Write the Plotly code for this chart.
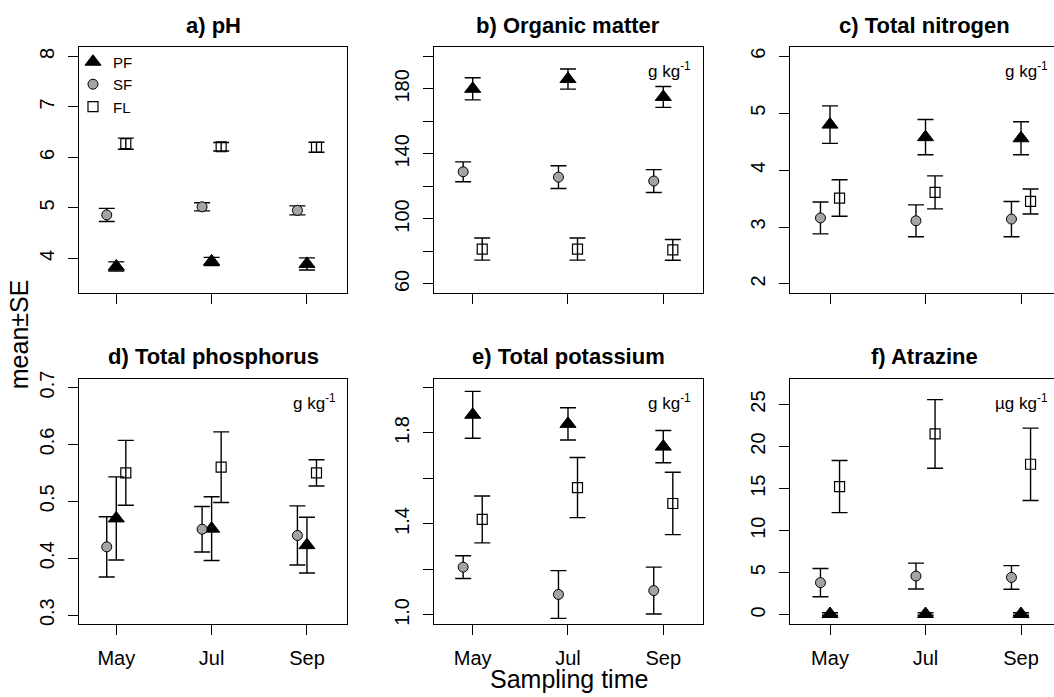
import plotly.graph_objects as go

# ---------------- data ----------------
months = ["May", "Jul", "Sep"]
series = ["PF", "SF", "FL"]

ph_pf_mean = [3.84, 3.94, 3.89]
ph_pf_se = [0.09, 0.08, 0.12]
ph_sf_mean = [4.86, 5.02, 4.95]
ph_sf_se = [0.13, 0.08, 0.09]
ph_fl_mean = [6.27, 6.21, 6.20]
ph_fl_se = [0.11, 0.085, 0.10]

om_pf_mean = [180.0, 186.0, 175.0]
om_pf_se = [6.8, 6.2, 6.4]
om_sf_mean = [129.0, 125.7, 123.3]
om_sf_se = [6.1, 7.0, 7.0]
om_fl_mean = [81.5, 81.5, 81.0]
om_fl_se = [6.8, 6.8, 6.4]

tn_pf_mean = [4.80, 4.58, 4.56]
tn_pf_se = [0.33, 0.31, 0.29]
tn_sf_mean = [3.16, 3.11, 3.14]
tn_sf_se = [0.28, 0.28, 0.31]
tn_fl_mean = [3.51, 3.61, 3.45]
tn_fl_se = [0.32, 0.29, 0.22]

tp_pf_mean = [0.470, 0.452, 0.423]
tp_pf_se = [0.073, 0.056, 0.049]
tp_sf_mean = [0.420, 0.451, 0.440]
tp_sf_se = [0.053, 0.040, 0.052]
tp_fl_mean = [0.550, 0.560, 0.550]
tp_fl_se = [0.057, 0.062, 0.023]

tk_pf_mean = [1.88, 1.84, 1.74]
tk_pf_se = [0.103, 0.071, 0.071]
tk_sf_mean = [1.21, 1.09, 1.107]
tk_sf_se = [0.05, 0.105, 0.103]
tk_fl_mean = [1.42, 1.56, 1.49]
tk_fl_se = [0.103, 0.132, 0.137]

atz_pf_mean = [0.1, 0.1, 0.1]
atz_pf_se = [0.15, 0.15, 0.15]
atz_sf_mean = [3.83, 4.61, 4.45]
atz_sf_se = [1.68, 1.54, 1.40]
atz_fl_mean = [15.25, 21.5, 17.9]
atz_fl_se = [3.1, 4.08, 4.3]

panel_titles = ["a) pH", "b) Organic matter", "c) Total nitrogen",
                "d) Total phosphorus", "e) Total potassium", "f) Atrazine"]
units = [None, "g kg<sup>-1</sup>", "g kg<sup>-1</sup>",
         "g kg<sup>-1</sup>", "g kg<sup>-1</sup>", "µg kg<sup>-1</sup>"]

ph_ticks = [4, 5, 6, 7, 8]
om_ticks = [60, 80, 100, 120, 140, 160, 180, 200]
om_labels = ["60", "", "100", "", "140", "", "180", ""]
tn_ticks = [2, 3, 4, 5, 6]
tp_ticks = [0.3, 0.4, 0.5, 0.6, 0.7]
tk_ticks = [1.0, 1.2, 1.4, 1.6, 1.8, 2.0]
tk_labels = ["1.0", "", "1.4", "", "1.8", ""]
atz_ticks = [0, 5, 10, 15, 20, 25]

panels = [
    (ph_pf_mean, ph_pf_se, ph_sf_mean, ph_sf_se, ph_fl_mean, ph_fl_se),
    (om_pf_mean, om_pf_se, om_sf_mean, om_sf_se, om_fl_mean, om_fl_se),
    (tn_pf_mean, tn_pf_se, tn_sf_mean, tn_sf_se, tn_fl_mean, tn_fl_se),
    (tp_pf_mean, tp_pf_se, tp_sf_mean, tp_sf_se, tp_fl_mean, tp_fl_se),
    (tk_pf_mean, tk_pf_se, tk_sf_mean, tk_sf_se, tk_fl_mean, tk_fl_se),
    (atz_pf_mean, atz_pf_se, atz_sf_mean, atz_sf_se, atz_fl_mean, atz_fl_se),
]
yticks = [
    (ph_ticks, [str(v) for v in ph_ticks]),
    (om_ticks, om_labels),
    (tn_ticks, [str(v) for v in tn_ticks]),
    (tp_ticks, [str(v) for v in tp_ticks]),
    (tk_ticks, tk_labels),
    (atz_ticks, [str(v) for v in atz_ticks]),
]

# ---------------- layout geometry ----------------
W, H = 1054, 697
FONT = "Liberation Sans, Arial, Helvetica, sans-serif"
col_px = [(79, 347), (434.3, 703), (790, 1054)]
row_px = [(40, 289), (376, 625)]
xranges = [(0.609, 3.42), (0.597, 3.417), (0.581, 3.3455)]
yranges = [(3.317, 8.176), (54.55, 205.45), (1.844, 6.156),
           (0.2844, 0.7156), (0.960, 2.039), (-1.09, 28.08)]

offsets = {"PF": 0.0, "SF": -0.1, "FL": 0.1}
styles = {
    "PF": dict(symbol="triangle-up", size=14, color="black",
               line=dict(color="black", width=1)),
    "SF": dict(symbol="circle", size=10, color="#a4a4a4",
               line=dict(color="black", width=1)),
    "FL": dict(symbol="square-open", size=10, color="black",
               line=dict(color="black", width=1.2)),
}

fig = go.Figure()
layout = dict(
    width=W, height=H, margin=dict(l=0, r=0, t=0, b=0),
    paper_bgcolor="white", plot_bgcolor="white",
    font=dict(family=FONT, color="black", size=19),
    showlegend=True,
    legend=dict(x=73 / W, y=1 - 38 / H, xanchor="left", yanchor="top",
                bgcolor="rgba(0,0,0,0)", font=dict(size=15, family=FONT),
                tracegroupgap=0, itemwidth=30),
)
annotations = []
xcats = [1, 2, 3]

for p in range(6):
    r, c = divmod(p, 3)
    idx = p + 1
    xa = "x" if idx == 1 else f"x{idx}"
    ya = "y" if idx == 1 else f"y{idx}"
    pf_m, pf_s, sf_m, sf_s, fl_m, fl_s = panels[p]
    data = {"PF": (pf_m, pf_s), "SF": (sf_m, sf_s), "FL": (fl_m, fl_s)}
    for s in ["PF", "SF", "FL"]:
        m, se = data[s]
        fig.add_trace(go.Scatter(
            x=[xc + offsets[s] for xc in xcats], y=m,
            mode="markers", name=s, legendgroup=s, showlegend=(p == 0),
            marker=styles[s],
            error_y=dict(type="data", array=se, visible=True, color="black",
                         thickness=1.4, width=8),
            xaxis=xa, yaxis=ya, cliponaxis=False,
        ))
    x0, x1 = col_px[c]
    y0, y1 = row_px[r]
    xdom = [x0 / W, min(x1 / W, 1.0)]
    ydom = [1 - y1 / H, 1 - y0 / H]
    xkey = "xaxis" if idx == 1 else f"xaxis{idx}"
    ykey = "yaxis" if idx == 1 else f"yaxis{idx}"
    layout[xkey] = dict(
        domain=xdom, anchor=ya, range=list(xranges[c]),
        tickvals=xcats, ticktext=months if r == 1 else ["", "", ""],
        ticks="outside", ticklen=10, tickwidth=1.4, tickcolor="black",
        showline=True, linecolor="black", linewidth=1.4, mirror=True,
        showgrid=False, zeroline=False, tickfont=dict(size=20),
        ticklabelstandoff=6,
    )
    tv, tt = yticks[p]
    layout[ykey] = dict(
        domain=ydom, anchor=xa, range=list(yranges[p]),
        tickvals=tv, ticktext=tt, tickangle=-90,
        ticks="outside", ticklen=10, tickwidth=1.4, tickcolor="black",
        showline=True, linecolor="black", linewidth=1.4,
        mirror=(c != 2), showgrid=False, zeroline=False,
        tickfont=dict(size=20), ticklabelstandoff=6,
    )
    # panel title
    annotations.append(dict(
        text=f"<b>{panel_titles[p]}</b>", x=(x0 + (x0 + 268)) / 2 / W,
        y=1 - (18 + 336 * r) / H, xref="paper", yref="paper",
        xanchor="center", yanchor="middle", showarrow=False,
        font=dict(size=22, family=FONT, color="black"),
    ))
    if units[p]:
        annotations.append(dict(
            text=units[p], x=(x0 + 268 - 9) / W if c < 2 else 1050 / W,
            y=1 - (63 + 337 * r) / H, xref="paper", yref="paper",
            xanchor="right", yanchor="middle", showarrow=False,
            font=dict(size=17, family=FONT, color="black"),
        ))

annotations.append(dict(
    text="mean±SE", x=19 / W, y=1 - 331 / H, xref="paper", yref="paper",
    xanchor="center", yanchor="middle", textangle=-90, showarrow=False,
    font=dict(size=25, family=FONT, color="black"),
))
annotations.append(dict(
    text="Sampling time", x=568.5 / W, y=1 - 681 / H, xref="paper",
    yref="paper", xanchor="center", yanchor="middle", showarrow=False,
    font=dict(size=25, family=FONT, color="black"),
))
layout["annotations"] = annotations
fig.update_layout(**layout)
fig.write_html(
    "out.html",
    config={"displayModeBar": False},
    post_script="document.body.style.margin='0';"
                "document.body.style.overflow='hidden';",
)
